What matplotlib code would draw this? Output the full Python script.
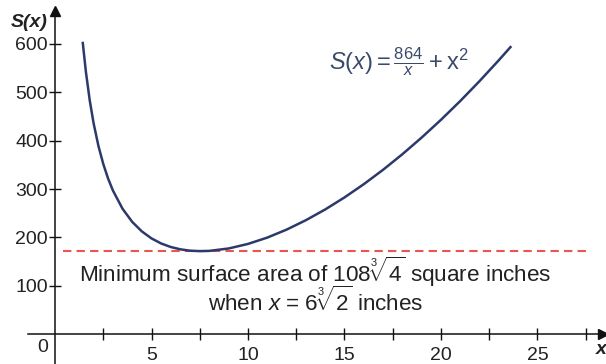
import matplotlib
matplotlib.use('Agg')
import matplotlib.pyplot as plt

plt.rcParams['font.family'] = ['Liberation Sans', 'DejaVu Sans']
plt.rcParams['mathtext.fontset'] = 'custom'
plt.rcParams['mathtext.rm'] = 'Liberation Sans'
plt.rcParams['mathtext.it'] = 'Liberation Sans:italic'
plt.rcParams['mathtext.bf'] = 'Liberation Sans:bold'

x_vals = [1.44, 1.6, 1.8, 2.0, 2.25, 2.5, 2.75, 3.0, 3.5, 4.0, 4.5, 5.0, 5.5, 6.0,
          6.5, 7.0, 7.5, 8.0, 9.0, 10.0, 11.0, 12.0, 13.0, 14.0, 15.0, 16.0,
          17.0, 18.0, 19.0, 20.0, 21.0, 22.0, 23.0, 23.6]
s_vals = [602.1, 542.6, 483.2, 436.0, 389.1, 351.9, 321.7, 297.0, 259.1, 232.0,
          212.3, 197.8, 187.3, 180.0, 175.2, 172.4, 171.5, 172.0, 177.0, 186.4,
          199.5, 216.0, 235.5, 257.7, 282.6, 310.0, 339.8, 372.0, 406.5, 443.2,
          482.1, 523.3, 566.6, 593.6]
min_area = 171.4
x_major = [5, 10, 15, 20, 25]
x_minor = [2.5, 7.5, 12.5, 17.5, 22.5, 27.5]
y_major = [100, 200, 300, 400, 500, 600]

curve_color = '#2b3a6b'
dash_color = '#e8564f'
text_color = '#222222'

fig = plt.figure(figsize=(6.06, 3.64), dpi=100)
ax = fig.add_axes([0, 0, 1, 1])
ax.set_xlim(-2.85, 28.55)
ax.set_ylim(-62, 691)

ax.plot(x_vals, s_vals, color=curve_color, lw=1.8, zorder=3)
ax.plot([0.4, 27.5], [min_area, min_area], color=dash_color, lw=1.5,
        dashes=(4, 2.5), zorder=2)

# axes through the origin
for side in ['top', 'right']:
    ax.spines[side].set_visible(False)
ax.spines['left'].set_position(('data', 0))
ax.spines['bottom'].set_position(('data', 0))
ax.spines['left'].set_bounds(-62, 668)
ax.spines['bottom'].set_bounds(-1.4, 28.4)
for side in ['left', 'bottom']:
    ax.spines[side].set_linewidth(1.1)
    ax.spines[side].set_color('#111111')
ax.plot(28.4, 0, marker='>', color='#111111', ms=7, clip_on=False, zorder=5)
ax.plot(0, 668, marker='^', color='#111111', ms=7, clip_on=False, zorder=5)

ax.set_xticks(x_major)
ax.set_xticks(x_minor, minor=True)
ax.set_yticks(y_major)
ax.tick_params(axis='both', which='both', direction='inout', length=8,
               width=1, color='#111111', labelsize=14, labelcolor=text_color)
ax.tick_params(axis='x', pad=5)
ax.tick_params(axis='y', pad=1)

ax.text(-0.65, -27, '0', fontsize=14, color=text_color, ha='center', va='center')
ax.text(-1.35, 645, 'S(x)', fontsize=14, fontweight='bold', fontstyle='italic',
        color=text_color, ha='center', va='center')
ax.text(28.3, -33, 'x', fontsize=14, fontweight='bold', fontstyle='italic',
        color=text_color, ha='center', va='center')

ax.text(17.8, 563, r'$S(x)=\frac{864}{x}+\mathrm{x}^2$', fontsize=17,
        color='#3b4a6b', ha='center', va='center')

ax.text(13.5, 108, r'Minimum surface area of $108\sqrt[3]{4}$ square inches',
        fontsize=16.2, color=text_color, ha='center', va='baseline')
ax.text(13.5, 48, r'when $x$ = $6\sqrt[3]{2}$ inches',
        fontsize=16.2, color=text_color, ha='center', va='baseline')

fig.savefig('out.png', dpi=100, facecolor='white')
